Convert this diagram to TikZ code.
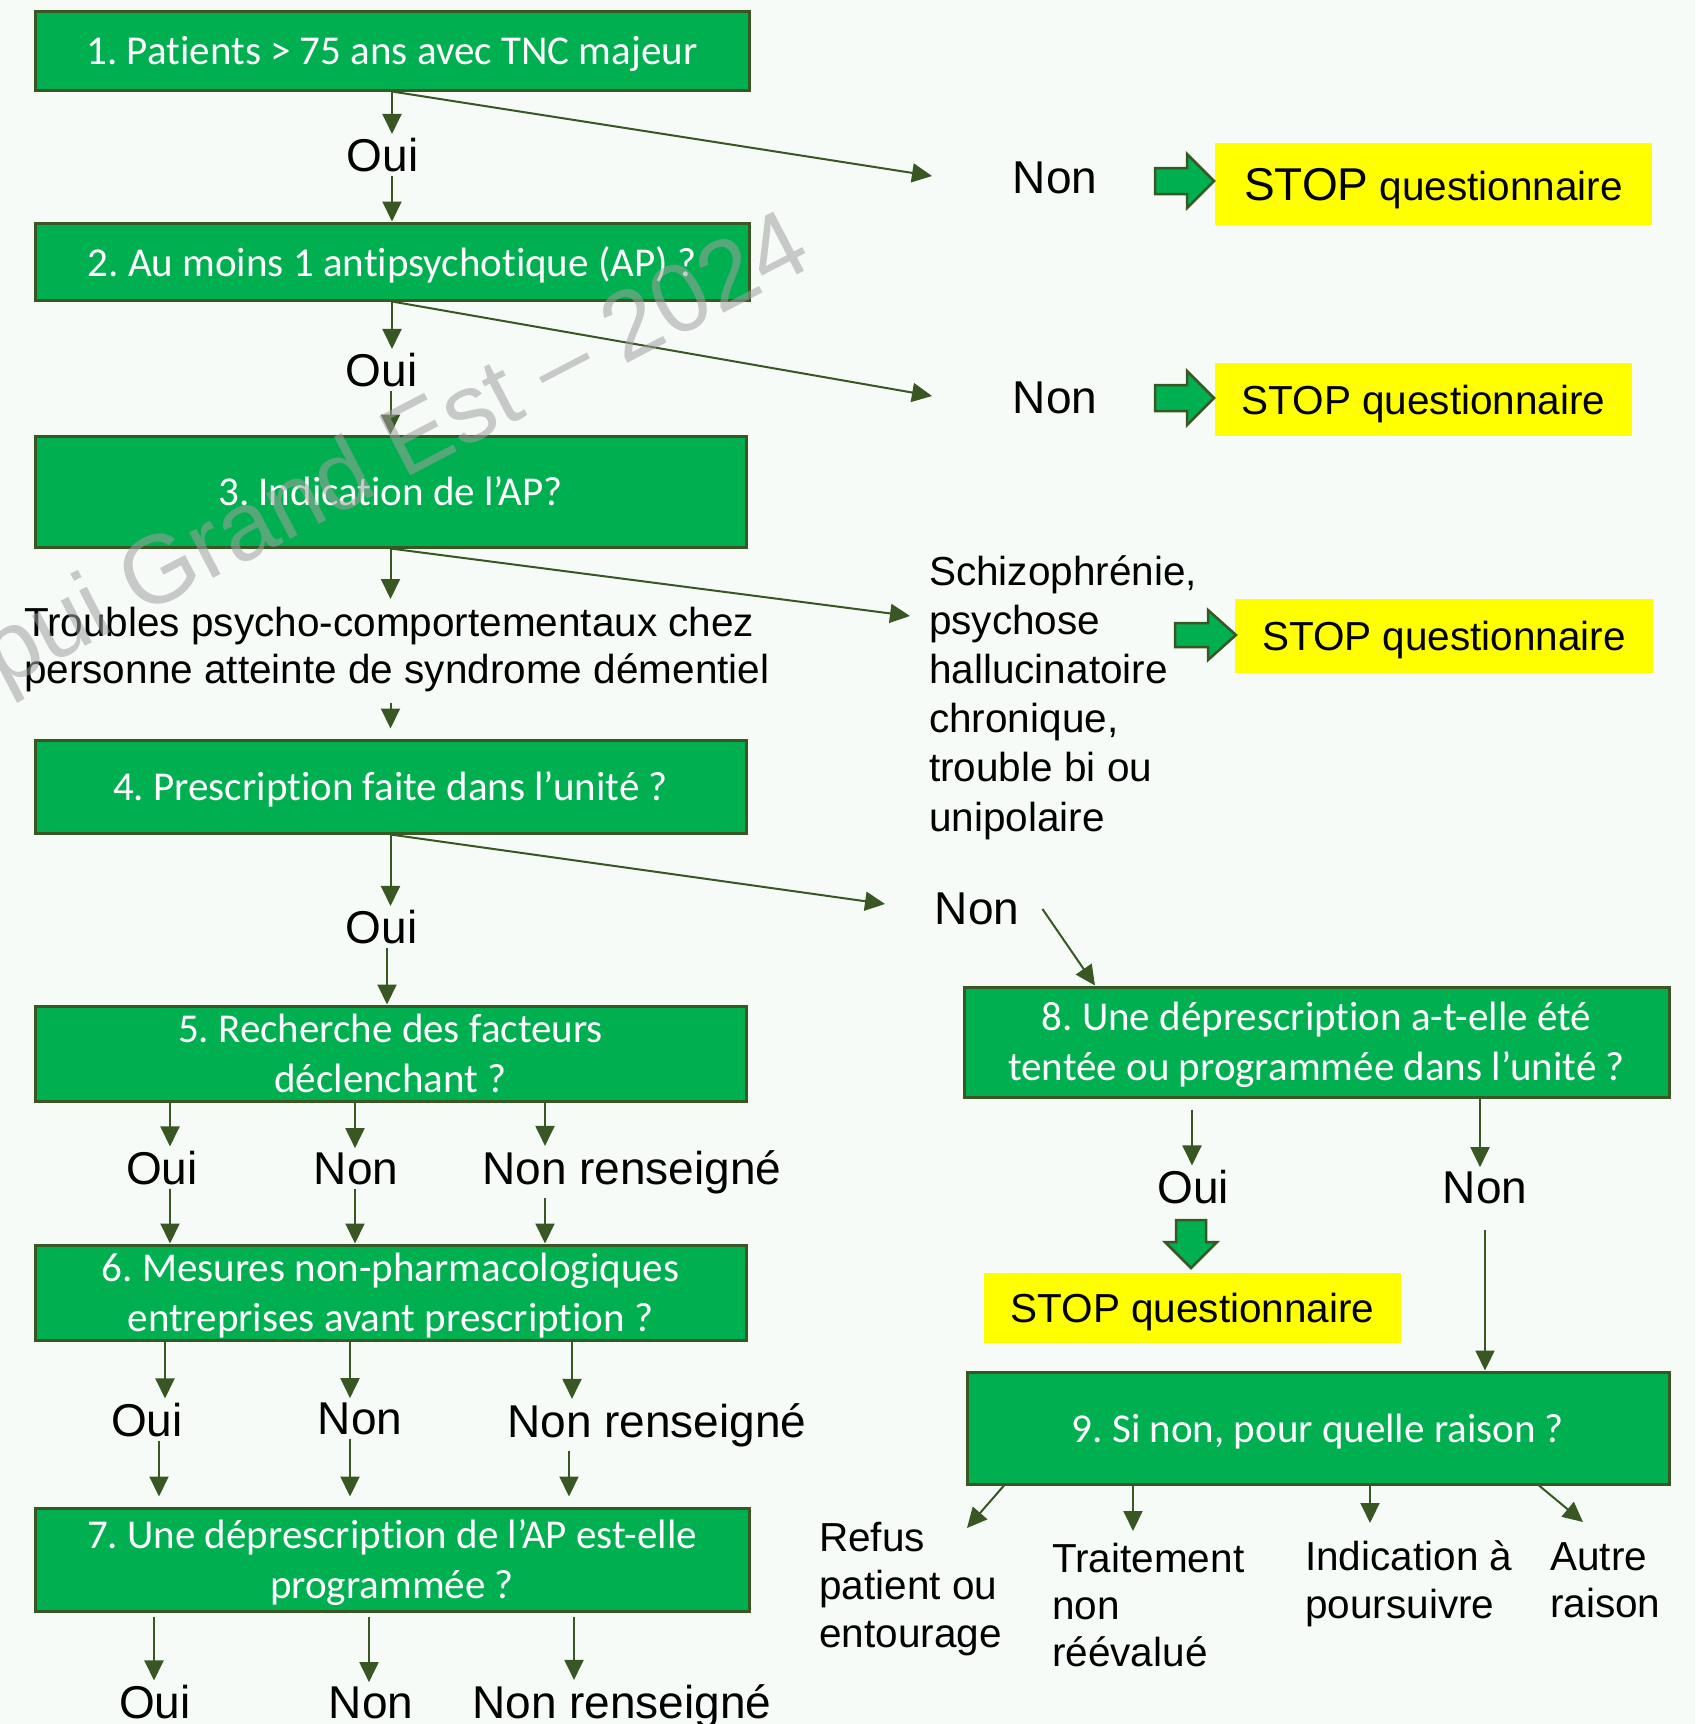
\documentclass[tikz,border=0pt]{standalone}
\usepackage{fontspec}
\setmainfont{Liberation Sans}
\newfontfamily\calib[Ligatures=NoCommon]{Carlito}
\usetikzlibrary{arrows.meta}
\definecolor{bxgreen}{HTML}{00B050}
\definecolor{dkgreen}{HTML}{385723}
\definecolor{yel}{HTML}{FFFF00}
\definecolor{bgcol}{HTML}{F6FBF8}
\definecolor{wmgray}{HTML}{A0A0A0}
\newcommand{\upstrut}{\rule{0pt}{35pt}}
\begin{document}
\frenchspacing
\begin{tikzpicture}[x=1pt,y=-1pt,
  box/.style={draw=dkgreen, line width=3pt, fill=bxgreen, text=white,
    font=\calib\fontsize{41}{50}\selectfont, align=center, inner sep=0pt},
  onebox/.style={box, text depth=0pt},
  stopbox/.style={fill=yel, inner sep=0pt, text depth=0pt, font=\fontsize{40.5}{48}\selectfont},
  lab/.style={font=\fontsize{46}{54}\selectfont, inner xsep=0pt, inner ysep=4pt, anchor=base},
  txt/.style={font=\fontsize{40.5}{48}\selectfont, align=left, inner sep=0pt, anchor=north west},
  arr/.style={draw=dkgreen, line width=2pt, -{Triangle[length=20pt,width=19pt]}},
  barrow/.style={fill=bxgreen, draw=dkgreen, line width=2.5pt, line join=miter},
  wmark/.style={font=\fontsize{97}{97}\selectfont, text=wmgray, text opacity=0.55, inner sep=0pt}
]
\fill[bgcol] (0,0) rectangle (1695,1724);
\useasboundingbox (0,0) rectangle (1695,1724);

% ---------- main boxes ----------
\node[onebox, minimum width=714pt, minimum height=79pt]  (b1) at (392,50.5) {1. Patients > 75 ans avec TNC majeur};
\node[onebox, minimum width=714pt, minimum height=77pt]  (b2) at (392,261.5) {2. Au moins 1 antipsychotique (AP) ?};
\node[box, minimum width=711pt, minimum height=111pt] (b3) at (390.5,491.5) {3. Indication de l’AP?};
\node[onebox, minimum width=711pt, minimum height=93pt]  (b4) at (390.5,786.5) {4. Prescription faite dans l’unité ?};
\node[box, minimum width=711pt, minimum height=95pt]  (b5) at (390.5,1053.5) {5. Recherche des facteurs\\déclenchant ?};
\node[box, minimum width=711pt, minimum height=95pt]  (b6) at (390.5,1292.5) {\upstrut 6. Mesures non-pharmacologiques\\entreprises avant prescription ?};
\node[box, minimum width=714pt, minimum height=103pt] (b7) at (392,1559.5) {\upstrut 7. Une déprescription de l’AP est-elle\\programmée ?};
\node[box, minimum width=705pt, minimum height=110pt] (b8) at (1316.5,1042) {\upstrut 8. Une déprescription a-t-elle été\\tentée ou programmée dans l’unité ?};
\node[onebox, minimum width=702pt, minimum height=112pt] (b9) at (1318,1428) {9. Si non, pour quelle raison ?};

% ---------- STOP boxes ----------
\node[stopbox, minimum width=437pt, minimum height=82pt] (s1) at (1433.5,184) {{\fontsize{46}{50}\selectfont STOP} questionnaire};
\node[stopbox, minimum width=417pt, minimum height=73pt] (s2) at (1423.5,399.5) {STOP questionnaire};
\node[stopbox, minimum width=418pt, minimum height=74pt] (s3) at (1444,636) {STOP questionnaire};
\node[stopbox, minimum width=417pt, minimum height=70pt] (s4) at (1192.5,1308) {STOP questionnaire};

% ---------- labels ----------
\node[lab] (oui1) at (382.5,171.5) {Oui};
\node[lab] (oui2) at (381.5,386.5) {Oui};
\node[lab] (oui4) at (381.5,943.5) {Oui};
\node[lab] (non1) at (1055,193.5) {Non};
\node[lab] (non2) at (1055,413.5) {Non};
\node[lab] (non4) at (977,924.5) {Non};
\node[lab] (oui5) at (162,1184) {Oui};
\node[lab] (non5) at (356,1184) {Non};
\node[lab] (nr5)  at (632,1184) {Non renseigné};
\node[lab] (oui6) at (147,1436) {Oui};
\node[lab] (non6) at (360,1434) {Non};
\node[lab] (nr6)  at (657,1437) {Non renseigné};
\node[lab] (oui7) at (155,1718) {Oui};
\node[lab] (non7) at (371,1718) {Non};
\node[lab] (nr7)  at (622,1718) {Non renseigné};
\node[lab] (oui8) at (1193,1203) {Oui};
\node[lab] (non8) at (1485,1203) {Non};

% ---------- free texts ----------
\node[txt, font=\fontsize{40.5}{47}\selectfont] (tr) at (24,607) {Troubles psycho-comportementaux chez\\personne atteinte de syndrome démentiel};
\node[txt, font=\fontsize{40.5}{49.2}\selectfont] (sch) at (929,555) {Schizophrénie,\\psychose\\hallucinatoire\\chronique,\\trouble bi ou\\unipolaire};
\node[txt] (refus) at (819,1522) {Refus\\patient ou\\entourage};
\node[txt, font=\fontsize{40.5}{47}\selectfont] (trait) at (1052,1543) {Traitement\\non\\réévalué};
\node[txt] (indic) at (1305,1540) {Indication à\\poursuivre};
\node[txt, font=\fontsize{40.5}{47}\selectfont] (autre) at (1550,1542) {Autre\\raison};

% ---------- helper coordinates ----------
\coordinate (d1) at (932,176);
\coordinate (d2) at (932,396);
\coordinate (d3) at (910,616);
\coordinate (d4) at (885,904);
\coordinate (k4) at (387,0);
\coordinate (n4e) at (1095,0);
\coordinate (k5a) at (170,0);
\coordinate (k5b) at (355,0);
\coordinate (k5c) at (545,0);
\coordinate (k6a) at (165,0);
\coordinate (k6a2) at (159,0);
\coordinate (k6b) at (350,0);
\coordinate (k6c) at (572,0);
\coordinate (k6c2) at (569,0);
\coordinate (k7a) at (154,0);
\coordinate (k7b) at (369,0);
\coordinate (k7c) at (574,0);
\coordinate (k8a) at (1192,0);
\coordinate (k8b) at (1480,0);
\coordinate (k8c) at (1485,0);
\coordinate (o1) at (1004,0);
\coordinate (e1) at (967,1528);
\coordinate (o2) at (1133,0);
\coordinate (o3) at (1370,0);
\coordinate (o4) at (1539,0);
\coordinate (e4) at (1583,1522);

% ---------- connectors: main column ----------
\draw[arr] (b1.south) -- (b1.south |- oui1.north);
\draw[arr] (b2.north |- oui1.south) -- (b2.north);
\draw[arr] (b1.south) -- (d1);
\draw[arr] (b2.south) -- (b2.south |- oui2.north);
\draw[arr] (b3.north |- oui2.south) -- (b3.north);
\draw[arr] (b2.south) -- (d2);
\draw[arr, shorten >=8pt] (b3.south) -- (b3.south |- tr.north);
\draw[arr] (b3.south) -- (d3);
\draw[arr, shorten <=11pt, shorten >=10pt] (b4.north |- tr.south) -- (b4.north);
\draw[arr] (b4.south) -- (b4.south |- oui4.north);
\draw[arr] (oui4.south -| k4) -- (b5.north -| k4);
\draw[arr] (b4.south) -- (d4);
\draw[arr] ([xshift=23pt]non4.east) -- (b8.north -| n4e);

% row 5
\draw[arr] (b5.south -| k5a) -- (oui5.north -| k5a);
\draw[arr] (b5.south -| k5b) -- (non5.north -| k5b);
\draw[arr] (b5.south -| k5c) -- (nr5.north -| k5c);
\draw[arr] (oui5.south -| k5a) -- (b6.north -| k5a);
\draw[arr] (non5.south -| k5b) -- (b6.north -| k5b);
\draw[arr] (nr5.south -| k5c) -- (b6.north -| k5c);
% row 6
\draw[arr] (b6.south -| k6a) -- (oui6.north -| k6a);
\draw[arr] (b6.south -| k6b) -- (non6.north -| k6b);
\draw[arr] (b6.south -| k6c) -- (nr6.north -| k6c);
\draw[arr, shorten >=10pt] (oui6.south -| k6a2) -- (b7.north -| k6a2);
\draw[arr, shorten >=10pt] (non6.south -| k6b) -- (b7.north -| k6b);
\draw[arr, shorten >=10pt] (nr6.south -| k6c2) -- (b7.north -| k6c2);
% row 7
\draw[arr, shorten <=4pt] (b7.south -| k7a) -- (oui7.north -| k7a);
\draw[arr, shorten <=4pt] (b7.south -| k7b) -- (non7.north -| k7b);
\draw[arr, shorten <=4pt] (b7.south -| k7c) -- (nr7.north -| k7c);
% row 8
\draw[arr, shorten <=11pt] (b8.south -| k8a) -- (oui8.north -| k8a);
\draw[arr] (b8.south -| k8b) -- (non8.north -| k8b);
\draw[arr, shorten <=22pt] (non8.south -| k8c) -- (b9.north -| k8c);
% box 9 outputs
\draw[arr] (b9.south -| o1) -- (e1);
\draw[arr, shorten >=12pt] (b9.south -| o2) -- (trait.north -| o2);
\draw[arr, shorten >=17pt] (b9.south -| o3) -- (indic.north -| o3);
\draw[arr] (b9.south -| o4) -- (e4);

% ---------- block arrows ----------
\draw[barrow] (1155,168) -- (1187,168) -- (1187,154) -- (1214,181) -- (1187,208) -- (1187,194) -- (1155,194) -- cycle;
\draw[barrow] (1155,385) -- (1187,385) -- (1187,371) -- (1214,398) -- (1187,425) -- (1187,411) -- (1155,411) -- cycle;
\draw[barrow] (1175,623) -- (1208,623) -- (1208,610) -- (1236,635) -- (1208,660) -- (1208,647) -- (1175,647) -- cycle;
\draw[barrow] (1176,1220) -- (1206,1220) -- (1206,1242) -- (1217,1242) -- (1191,1268) -- (1165,1242) -- (1176,1242) -- cycle;

% ---------- watermark ----------
\node[wmark, rotate=27.5, anchor=base west] (wm) at (2,689) {pui Grand Est – 2024};
\end{tikzpicture}
\end{document}
